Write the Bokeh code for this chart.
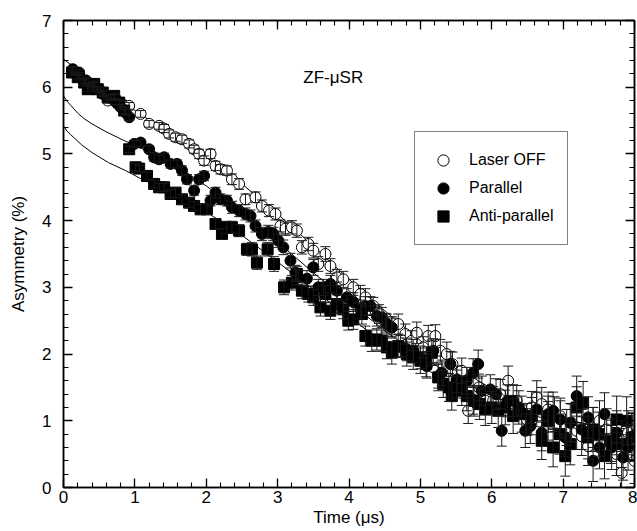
from bokeh.plotting import figure
from bokeh.models import (ColumnDataSource, Whisker, TeeHead, LinearAxis, Range1d,
                          Legend, LegendItem, Label, SingleIntervalTicker,
                          CustomLabelingPolicy)
from bokeh.embed import file_html
from bokeh.resources import INLINE

# ---------------- data ----------------
off_t = [0.12, 0.22, 0.32, 0.42, 0.52, 0.62, 0.72, 0.82, 0.92, 1.08,
         1.20, 1.34, 1.41, 1.48, 1.57, 1.66, 1.76, 1.83, 1.90, 1.97,
         2.06, 2.13, 2.20, 2.29, 2.36, 2.46, 2.55, 2.69, 2.78, 2.88,
         2.97, 3.04, 3.11, 3.20, 3.27, 3.34, 3.43, 3.50, 3.57, 3.67,
         3.74, 3.83, 3.92, 4.06, 4.16, 4.23, 4.34, 4.42, 4.51, 4.60,
         4.69, 4.79, 4.88, 4.95, 5.04, 5.11, 5.21, 5.28, 5.37, 5.45,
         5.58, 5.67, 5.74, 5.82, 5.91, 6.02, 6.12, 6.23, 6.35, 6.49,
         6.56, 6.63, 6.70, 6.79, 6.88, 6.96, 7.05, 7.12, 7.19, 7.26,
         7.35, 7.42, 7.51, 7.61, 7.68, 7.75, 7.82, 7.91, 8.00]
off_a = [6.25, 6.18, 6.10, 6.03, 5.95, 5.80, 5.85, 5.75, 5.72, 5.60,
         5.45, 5.42, 5.38, 5.30, 5.25, 5.22, 5.15, 5.07, 5.00, 4.90,
         5.00, 4.82, 4.77, 4.75, 4.62, 4.55, 4.32, 4.35, 4.22, 4.15,
         4.10, 3.92, 3.88, 3.90, 3.85, 3.60, 3.65, 3.55, 3.35, 3.50,
         3.32, 3.15, 3.12, 3.00, 2.90, 2.85, 2.72, 2.60, 2.47, 2.40,
         2.45, 2.30, 2.20, 2.32, 2.10, 2.27, 2.27, 2.05, 2.00, 1.85,
         1.75, 1.15, 1.30, 1.50, 1.30, 1.30, 1.40, 1.60, 1.30, 1.02,
         1.20, 1.35, 1.25, 1.17, 1.10, 1.07, 0.90, 0.97, 0.85, 0.77,
         0.62, 0.90, 1.00, 0.87, 0.70, 0.50, 0.22, 0.82, 0.40]
off_e = [0.04, 0.04, 0.04, 0.04, 0.04, 0.04, 0.04, 0.05, 0.05, 0.05,
         0.05, 0.05, 0.06, 0.06, 0.06, 0.06, 0.06, 0.06, 0.07, 0.07,
         0.07, 0.07, 0.07, 0.07, 0.08, 0.08, 0.08, 0.08, 0.09, 0.09,
         0.09, 0.09, 0.10, 0.10, 0.10, 0.10, 0.10, 0.11, 0.11, 0.11,
         0.11, 0.12, 0.12, 0.12, 0.13, 0.13, 0.13, 0.14, 0.14, 0.14,
         0.15, 0.15, 0.15, 0.16, 0.16, 0.16, 0.17, 0.17, 0.18, 0.18,
         0.19, 0.19, 0.20, 0.20, 0.21, 0.21, 0.22, 0.22, 0.23, 0.24,
         0.24, 0.25, 0.25, 0.26, 0.26, 0.27, 0.27, 0.28, 0.28, 0.29,
         0.29, 0.30, 0.30, 0.31, 0.31, 0.32, 0.32, 0.33, 0.34]

par_t = [0.13, 0.22, 0.30, 0.40, 0.47, 0.55, 0.66, 0.73, 0.80, 0.87,
         0.92, 0.99, 1.08, 1.20, 1.27, 1.34, 1.41, 1.50, 1.59, 1.66,
         1.73, 1.83, 1.90, 1.97, 2.06, 2.13, 2.20, 2.29, 2.36, 2.46,
         2.55, 2.62, 2.69, 2.78, 2.87, 2.94, 3.01, 3.08, 3.18, 3.25,
         3.29, 3.41, 3.50, 3.57, 3.64, 3.74, 3.83, 3.97, 4.06, 4.16,
         4.23, 4.30, 4.39, 4.46, 4.53, 4.60, 4.72, 4.81, 4.90, 5.00,
         5.09, 5.18, 5.25, 5.30, 5.42, 5.51, 5.65, 5.74, 5.81, 5.86,
         5.98, 6.06, 6.14, 6.22, 6.30, 6.38, 6.47, 6.54, 6.63, 6.70,
         6.79, 6.86, 6.96, 7.03, 7.10, 7.19, 7.26, 7.35, 7.42, 7.51,
         7.58, 7.68, 7.75, 7.84, 7.91, 7.98]
par_a = [6.27, 6.22, 6.10, 6.00, 5.97, 5.90, 5.84, 5.78, 5.70, 5.62,
         5.55, 5.15, 5.17, 5.07, 4.95, 4.92, 4.95, 4.85, 4.85, 4.75,
         4.62, 4.45, 4.62, 4.67, 4.30, 4.42, 4.32, 4.30, 4.20, 4.15,
         4.10, 4.07, 3.92, 3.80, 3.83, 3.80, 3.70, 3.60, 3.40, 3.22,
         3.15, 3.13, 3.30, 3.00, 3.00, 3.05, 2.95, 2.85, 2.78, 2.67,
         2.72, 2.72, 2.57, 2.55, 2.45, 2.40, 2.12, 2.07, 2.05, 1.95,
         1.82, 2.05, 1.67, 1.72, 1.85, 1.62, 1.60, 1.72, 1.85, 1.45,
         1.47, 1.40, 0.85, 1.30, 1.30, 1.20, 0.85, 0.92, 1.17, 0.82,
         1.10, 1.15, 1.02, 0.75, 0.97, 1.37, 0.87, 1.05, 0.40, 0.60,
         1.10, 0.60, 0.82, 0.45, 0.60, 0.77]
par_e = [0.04, 0.04, 0.04, 0.04, 0.04, 0.04, 0.04, 0.04, 0.04, 0.04,
         0.05, 0.05, 0.05, 0.05, 0.06, 0.06, 0.06, 0.06, 0.06, 0.07,
         0.07, 0.07, 0.07, 0.07, 0.08, 0.08, 0.08, 0.08, 0.09, 0.09,
         0.09, 0.09, 0.09, 0.10, 0.10, 0.10, 0.10, 0.11, 0.11, 0.11,
         0.11, 0.12, 0.12, 0.12, 0.12, 0.13, 0.13, 0.13, 0.14, 0.14,
         0.14, 0.14, 0.15, 0.15, 0.15, 0.16, 0.16, 0.17, 0.17, 0.17,
         0.18, 0.18, 0.18, 0.19, 0.19, 0.20, 0.20, 0.21, 0.21, 0.22,
         0.22, 0.23, 0.23, 0.24, 0.24, 0.25, 0.25, 0.26, 0.26, 0.27,
         0.27, 0.28, 0.28, 0.29, 0.29, 0.30, 0.30, 0.31, 0.31, 0.32,
         0.32, 0.33, 0.33, 0.34, 0.34, 0.35]

anti_t = [0.12, 0.20, 0.29, 0.34, 0.43, 0.48, 0.55, 0.62, 0.71, 0.78,
          0.85, 0.92, 1.01, 1.06, 1.17, 1.27, 1.34, 1.41, 1.50, 1.57,
          1.66, 1.76, 1.83, 1.92, 2.01, 2.13, 2.22, 2.29, 2.36, 2.46,
          2.57, 2.64, 2.71, 2.86, 2.95, 3.09, 3.20, 3.27, 3.34, 3.43,
          3.50, 3.60, 3.67, 3.74, 3.83, 3.92, 3.99, 4.06, 4.18, 4.23,
          4.32, 4.39, 4.46, 4.53, 4.60, 4.69, 4.81, 4.90, 5.00, 5.08,
          5.16, 5.25, 5.32, 5.40, 5.44, 5.51, 5.58, 5.65, 5.75, 5.83,
          5.91, 6.00, 6.09, 6.19, 6.30, 6.42, 6.56, 6.70, 6.79, 6.86,
          6.95, 7.03, 7.10, 7.19, 7.28, 7.35, 7.42, 7.50, 7.58, 7.67,
          7.75, 7.82, 7.89, 7.96]
anti_a = [6.22, 6.15, 6.07, 5.97, 6.05, 5.97, 5.92, 5.85, 5.87, 5.77,
          5.65, 5.07, 4.80, 4.78, 4.67, 4.55, 4.50, 4.50, 4.40, 4.42,
          4.32, 4.27, 4.22, 4.17, 4.17, 3.95, 3.80, 3.90, 3.90, 3.85,
          3.57, 3.57, 3.37, 3.57, 3.35, 3.00, 3.07, 3.20, 2.95, 2.90,
          2.85, 2.70, 2.90, 2.65, 2.75, 2.67, 2.50, 2.52, 2.60, 2.27,
          2.20, 2.22, 2.20, 2.10, 2.02, 2.12, 2.00, 1.95, 1.90, 1.85,
          2.02, 1.65, 1.55, 1.50, 1.37, 1.55, 1.45, 1.37, 1.30, 1.25,
          1.17, 1.20, 1.15, 1.20, 1.07, 1.10, 1.07, 0.70, 1.00, 0.60,
          0.80, 0.47, 0.65, 1.20, 1.27, 0.75, 0.87, 0.80, 0.47, 0.70,
          1.02, 0.65, 1.00, 0.75]
anti_e = [0.04, 0.04, 0.04, 0.04, 0.04, 0.04, 0.04, 0.04, 0.04, 0.04,
          0.05, 0.05, 0.05, 0.05, 0.06, 0.06, 0.06, 0.06, 0.06, 0.07,
          0.07, 0.07, 0.07, 0.08, 0.08, 0.08, 0.08, 0.09, 0.09, 0.09,
          0.09, 0.10, 0.10, 0.10, 0.11, 0.11, 0.11, 0.11, 0.12, 0.12,
          0.12, 0.13, 0.13, 0.13, 0.14, 0.14, 0.14, 0.15, 0.15, 0.15,
          0.16, 0.16, 0.16, 0.17, 0.17, 0.17, 0.18, 0.18, 0.19, 0.19,
          0.19, 0.20, 0.20, 0.21, 0.21, 0.21, 0.22, 0.22, 0.23, 0.23,
          0.24, 0.24, 0.25, 0.26, 0.26, 0.27, 0.28, 0.28, 0.29, 0.29,
          0.30, 0.30, 0.31, 0.31, 0.32, 0.32, 0.33, 0.33, 0.34, 0.34,
          0.35, 0.35, 0.36, 0.36]

# fitted curves
fit_off_t = [0.0, 0.25, 0.5, 0.75, 1.0, 1.5, 2.0, 2.5, 3.0, 3.5, 4.0, 4.5,
             5.0, 5.5, 6.0, 6.5, 7.0, 7.5, 8.0]
fit_off_a = [6.42, 6.22, 6.02, 5.83, 5.65, 5.30, 4.95, 4.55, 4.10, 3.62, 3.12, 2.65,
             2.20, 1.80, 1.48, 1.22, 1.03, 0.90, 0.83]
fit_par_t = [0.0, 0.05, 0.1, 0.2, 0.3, 0.4, 0.6, 0.85, 1.0, 1.25, 1.5, 1.75, 2.0,
             2.5, 3.0, 3.5, 4.0, 4.5, 5.0, 5.5, 6.0, 6.5, 7.0, 7.5, 8.0]
fit_par_a = [5.87, 5.79, 5.73, 5.61, 5.52, 5.45, 5.33, 5.20, 5.13, 5.00, 4.87, 4.70, 4.52,
             4.12, 3.68, 3.22, 2.78, 2.35, 1.97, 1.65, 1.38, 1.17, 1.02, 0.92, 0.87]
fit_anti_t = [0.0, 0.05, 0.1, 0.17, 0.25, 0.4, 0.63, 0.87, 1.1, 1.5, 2.0,
              2.5, 3.0, 3.5, 4.0, 4.5, 5.0, 5.5, 6.0, 6.5, 7.0, 7.5, 8.0]
fit_anti_a = [5.42, 5.34, 5.29, 5.22, 5.14, 5.02, 4.87, 4.75, 4.62, 4.43, 4.13,
              3.78, 3.38, 2.97, 2.55, 2.17, 1.82, 1.52, 1.28, 1.10, 0.97, 0.88, 0.82]

series_names = ["Laser OFF", "Parallel", "Anti-parallel"]

FONT = "Liberation Sans"

p = figure(width=637, height=531, output_backend="svg", toolbar_location=None,
           x_range=Range1d(0, 8), y_range=Range1d(0, 7),
           min_border_left=63, min_border_right=3, min_border_top=20, min_border_bottom=44)
p.xgrid.visible = False
p.ygrid.visible = False
p.outline_line_color = "black"
p.outline_line_width = 1.5
p.background_fill_color = "white"
p.border_fill_color = "white"


def style_axis(ax, labels=True):
    ax.ticker = SingleIntervalTicker(interval=1, num_minor_ticks=5)
    ax.axis_line_color = "black"
    ax.axis_line_width = 1.5
    ax.major_tick_in = 9
    ax.major_tick_out = 0
    ax.minor_tick_in = 5
    ax.minor_tick_out = 0
    ax.major_tick_line_width = 1.3
    ax.minor_tick_line_width = 1.1
    ax.major_tick_line_color = "black"
    ax.minor_tick_line_color = "black"
    if labels:
        ax.major_label_text_font = FONT
        ax.major_label_text_font_size = "17px"
        ax.major_label_text_color = "black"
        ax.axis_label_text_font = FONT
        ax.axis_label_text_font_size = "17px"
        ax.axis_label_text_font_style = "normal"
        ax.axis_label_text_color = "black"
    else:
        # mirrored frame axes: ticks only, no labels drawn
        ax.major_label_policy = CustomLabelingPolicy(
            code="const n = indices.size; for (let i = 0; i < n; i++) { indices.unset(i) } return indices")
        ax.major_label_text_font_size = "0px"
        ax.major_label_standoff = 0
        ax.axis_label = None


xa = p.xaxis[0]
ya = p.yaxis[0]
style_axis(xa)
style_axis(ya)
xa.axis_label = "Time (\u03bcs)"
ya.axis_label = "Asymmetry (%)"
xa.major_label_standoff = 3
xa.axis_label_standoff = 2
ya.major_label_standoff = 12
ya.axis_label_standoff = 11

top_ax = LinearAxis()
right_ax = LinearAxis()
style_axis(top_ax, labels=False)
style_axis(right_ax, labels=False)
p.add_layout(top_ax, "above")
p.add_layout(right_ax, "right")

# fit curves
p.line(fit_off_t, fit_off_a, line_color="black", line_width=1)
p.line(fit_par_t, fit_par_a, line_color="black", line_width=1)
p.line(fit_anti_t, fit_anti_a, line_color="black", line_width=1)

renderers = []
for t, a, e, marker, fill in [
    (off_t, off_a, off_e, "circle", "white"),
    (par_t, par_a, par_e, "circle", "black"),
    (anti_t, anti_a, anti_e, "square", "black"),
]:
    src = ColumnDataSource(dict(t=t, a=a,
                                lo=[ai - ei for ai, ei in zip(a, e)],
                                hi=[ai + ei for ai, ei in zip(a, e)]))
    w = Whisker(source=src, base="t", lower="lo", upper="hi", dimension="height",
                line_color="#1a1a1a", line_width=1, level="glyph",
                upper_head=TeeHead(size=10, line_color="#1a1a1a", line_width=1),
                lower_head=TeeHead(size=10, line_color="#1a1a1a", line_width=1))
    p.add_layout(w)
    r = p.scatter("t", "a", source=src, marker=marker, size=11,
                  fill_color=fill, line_color="black", line_width=1)
    renderers.append(r)

legend = Legend(items=[LegendItem(label=n, renderers=[r]) for n, r in zip(series_names, renderers)],
                location=(351, 242), orientation="vertical",
                glyph_width=28, glyph_height=28, label_height=28, spacing=0,
                padding=14, margin=0, label_standoff=12,
                label_text_font=FONT, label_text_font_size="16px",
                label_text_color="black",
                border_line_color="black", border_line_width=1,
                background_fill_color="white", background_fill_alpha=1)
p.add_layout(legend, "center")

p.add_layout(Label(x=3.36, y=6.14, text="ZF-\u03bcSR", text_font=FONT,
                   text_font_size="17px", text_baseline="middle", text_color="black"))

open("out.html", "w").write(file_html(p, INLINE))
